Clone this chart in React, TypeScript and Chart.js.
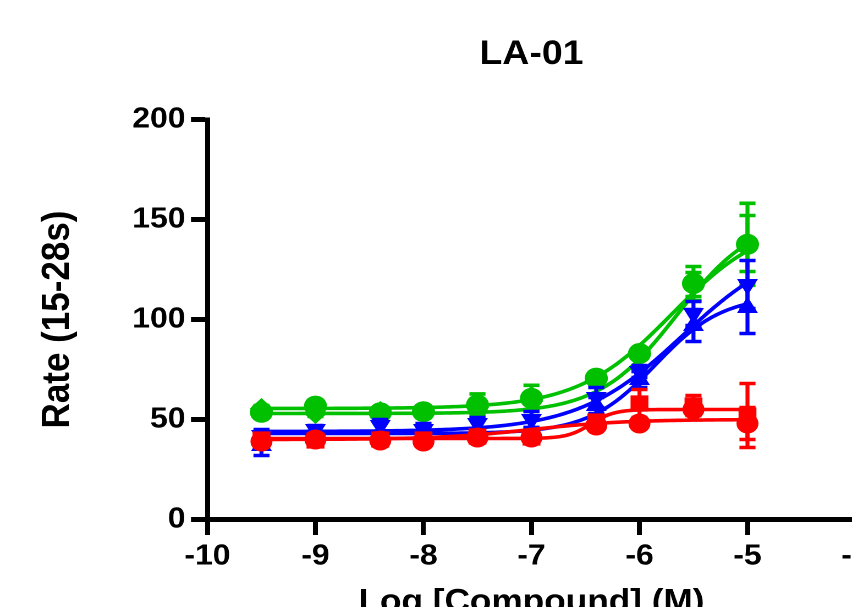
import React, { useEffect, useRef } from 'react';
import { Chart, registerables } from 'chart.js';

Chart.register(...registerables);

// ---- data ----
const doses = [-9.5, -9, -8.4, -8, -7.5, -7, -6.4, -6, -5.5, -5];

const greenCircle = [53.6, 56.7, 53.4, 53.9, 57.3, 60.6, 70.7, 83, 118, 137.6];
const greenCircleErr = [1.5, 2, 1.5, 1.5, 5.5, 6.5, 2, 2, 8.5, 20.5];
const greenDiamond = [55.5, 53, 54, 54, 56, 59, 69.5, 82.5, 117.5, 138];
const greenDiamondErr = [1.5, 1.5, 1, 1, 3, 4, 2, 2, 6, 14];

const blueDown = [42, 45, 47, 45, 48, 50, 61, 74, 103, 117.5];
const blueDownErr = [3, 2, 3, 3, 3, 4, 5, 3, 6, 12];
const blueUp = [37, 42, 42, 42, 43, 44, 57, 70, 97, 106];
const blueUpErr = [5, 2, 2, 2, 2, 2, 4, 4, 8, 13];

const redSquare = [40, 39.5, 40, 40, 41.5, 41, 49, 58, 57, 52];
const redSquareErr = [1, 2, 1, 2, 2, 2, 2, 7, 5, 16];
const redCircle = [39, 40, 39.5, 39, 41, 41, 47, 48, 55, 48];
const redCircleErr = [1, 1, 1, 1, 1, 1, 1, 2, 2, 8];

// fitted 4PL parameters [bottom, top, logEC50, hill]
const fitGreenCircle = [55.5, 150, -5.7, 1.0];
const fitGreenDiamond = [53, 152, -5.65, 1.2];
const fitBlueDown = [44, 140, -5.6, 0.9];
const fitBlueUp = [43, 112, -5.85, 1.4];
const fitRedSquare = [40.5, 55, -6.45, 4];
const fitRedCircle = [40, 50, -7, 1];

const xTicks = [-10, -9, -8, -7, -6, -5, -4];
const yTicks = [0, 50, 100, 150, 200];

const titleText = 'LA-01';
const yTitle = 'Rate (15-28s)';
const xTitle = 'Log [Compound] (M)';

const GREEN = 'rgb(0,192,0)';
const BLUE = 'rgb(0,0,255)';
const RED = 'rgb(255,0,0)';

const FONT = "'Liberation Sans', Arial, Helvetica, sans-serif";
const STRETCH = 1.1;
const W = 900;
const H = 640;
const AREA_LEFT = 188.6;
const AREA_RIGHT = 777.7;
const AREA_TOP = 119.5;
const AREA_BOTTOM = 519.5;

function fourPL(p: number[], x: number) {
  const [b, t, ec, h] = p;
  return b + (t - b) / (1 + Math.pow(10, (ec - x) * h));
}

function curve(p: number[]) {
  const pts: { x: number; y: number }[] = [];
  const x0 = doses[0];
  const x1 = doses[doses.length - 1];
  const n = 200;
  for (let i = 0; i <= n; i++) {
    const x = x0 + ((x1 - x0) * i) / n;
    pts.push({ x, y: fourPL(p, x) });
  }
  return pts;
}

function points(vals: number[]) {
  return doses.map((d, i) => ({ x: d, y: vals[i] }));
}

const errorBarPlugin = {
  id: 'errorBars',
  beforeDatasetDraw(chart: any, args: any) {
    const ds = chart.data.datasets[args.index];
    if (!ds.errors) return;
    const { ctx } = chart;
    const xs = chart.scales.x;
    const ys = chart.scales.y;
    ctx.save();
    ctx.strokeStyle = ds.borderColor;
    ctx.lineWidth = 3.6;
    ctx.lineCap = 'butt';
    ds.data.forEach((p: any, i: number) => {
      const e = ds.errors[i];
      if (!e) return;
      const px = xs.getPixelForValue(p.x);
      const yt = ys.getPixelForValue(p.y + e);
      const yb = ys.getPixelForValue(p.y - e);
      const cw = 7.3;
      ctx.beginPath();
      ctx.moveTo(px, yt);
      ctx.lineTo(px, yb);
      ctx.moveTo(px - cw, yt);
      ctx.lineTo(px + cw, yt);
      ctx.moveTo(px - cw, yb);
      ctx.lineTo(px + cw, yb);
      ctx.stroke();
    });
    ctx.restore();
  },
};

export default function App() {
  const ref = useRef<HTMLCanvasElement | null>(null);

  useEffect(() => {
    if (!ref.current) return;

    const lineDs = (p: number[], color: string) => ({
      data: curve(p),
      showLine: true,
      borderColor: color,
      borderWidth: 3.6,
      pointRadius: 0,
      tension: 0,
      fill: false,
    });
    const ptDs = (vals: number[], errs: number[], color: string, style: string, r: number, rot = 0) => ({
      data: points(vals),
      errors: errs,
      showLine: false,
      borderColor: color,
      backgroundColor: color,
      pointBackgroundColor: color,
      pointBorderColor: color,
      pointBorderWidth: 0,
      pointStyle: style,
      pointRadius: r,
      pointRotation: rot,
    });

    // listed in drawing sequence (first = bottom)
    const seq: any[] = [
      lineDs(fitGreenDiamond, GREEN),
      lineDs(fitGreenCircle, GREEN),
      ptDs(greenDiamond, greenDiamondErr, GREEN, 'rectRot', 10.5),
      ptDs(greenCircle, greenCircleErr, GREEN, 'circle', 10.5),
      lineDs(fitBlueUp, BLUE),
      lineDs(fitBlueDown, BLUE),
      ptDs(blueUp, blueUpErr, BLUE, 'triangle', 11),
      ptDs(blueDown, blueDownErr, BLUE, 'triangle', 11, 180),
      lineDs(fitRedCircle, RED),
      lineDs(fitRedSquare, RED),
      ptDs(redCircle, redCircleErr, RED, 'circle', 10),
      ptDs(redSquare, redSquareErr, RED, 'rect', 11.5),
    ];
    const datasets = seq.map((d, i) => ({ ...d, order: seq.length - i }));

    const chart = new Chart(ref.current, {
      type: 'scatter',
      data: { datasets },
      plugins: [errorBarPlugin],
      options: {
        animation: false,
        responsive: false,
        devicePixelRatio: 2,
        events: [],
        layout: {
          autoPadding: false,
          padding: { left: 0, top: 0, bottom: 0, right: W - AREA_RIGHT },
        },
        plugins: {
          legend: { display: false },
          tooltip: { enabled: false },
          title: {
            display: true,
            text: titleText,
            fullSize: false,
            color: '#000',
            font: { family: FONT, size: 34, weight: 'bold' },
            padding: { top: 34, bottom: AREA_TOP - 34 - 34 * 1.2 },
          },
        },
        scales: {
          x: {
            type: 'linear',
            min: -10,
            max: -4,
            afterBuildTicks: (s: any) => {
              s.ticks = xTicks.map((v) => ({ value: v }));
            },
            afterFit: (s: any) => {
              s.height = H - AREA_BOTTOM;
            },
            ticks: {
              color: '#000',
              font: { family: FONT, size: 29, weight: 'bold' },
              padding: 4,
              maxRotation: 0,
              autoSkip: false,
              callback: (v: any) => String(v),
            },
            grid: {
              drawOnChartArea: false,
              drawTicks: true,
              tickLength: 15.5,
              lineWidth: 4.5,
              tickWidth: 4.5,
              color: '#000',
              tickColor: '#000',
            },
            border: { display: true, width: 5, color: '#000' },
            title: {
              display: true,
              text: xTitle,
              color: '#000',
              font: { family: FONT, size: 32, weight: 'bold' },
              padding: { top: 0, bottom: 18 },
            },
          },
          y: {
            type: 'linear',
            min: 0,
            max: 200,
            afterBuildTicks: (s: any) => {
              s.ticks = yTicks.map((v) => ({ value: v }));
            },
            afterFit: (s: any) => {
              s.width = AREA_LEFT;
            },
            ticks: {
              color: '#000',
              font: { family: FONT, size: 29, weight: 'bold' },
              padding: 5,
              callback: (v: any) => String(v),
            },
            grid: {
              drawOnChartArea: false,
              drawTicks: true,
              tickLength: 15,
              lineWidth: 5,
              tickWidth: 5,
              color: '#000',
              tickColor: '#000',
            },
            border: { display: true, width: 4.5, color: '#000' },
            title: {
              display: true,
              text: yTitle,
              color: '#000',
              font: { family: FONT, size: 35, weight: 'bold' },
              padding: { top: 32, bottom: 0 },
            },
          },
        },
      } as any,
    });

    return () => chart.destroy();
  }, []);

  return (
    <div
      style={{
        position: 'fixed',
        left: 0,
        top: 0,
        width: 852,
        height: 607,
        overflow: 'hidden',
        background: '#fff',
      }}
    >
      <div
        style={{
          width: W,
          height: H,
          transform: `scaleX(${STRETCH})`,
          transformOrigin: '0 0',
        }}
      >
        <canvas ref={ref} width={W} height={H} style={{ width: W, height: H, display: 'block' }} />
      </div>
    </div>
  );
}
